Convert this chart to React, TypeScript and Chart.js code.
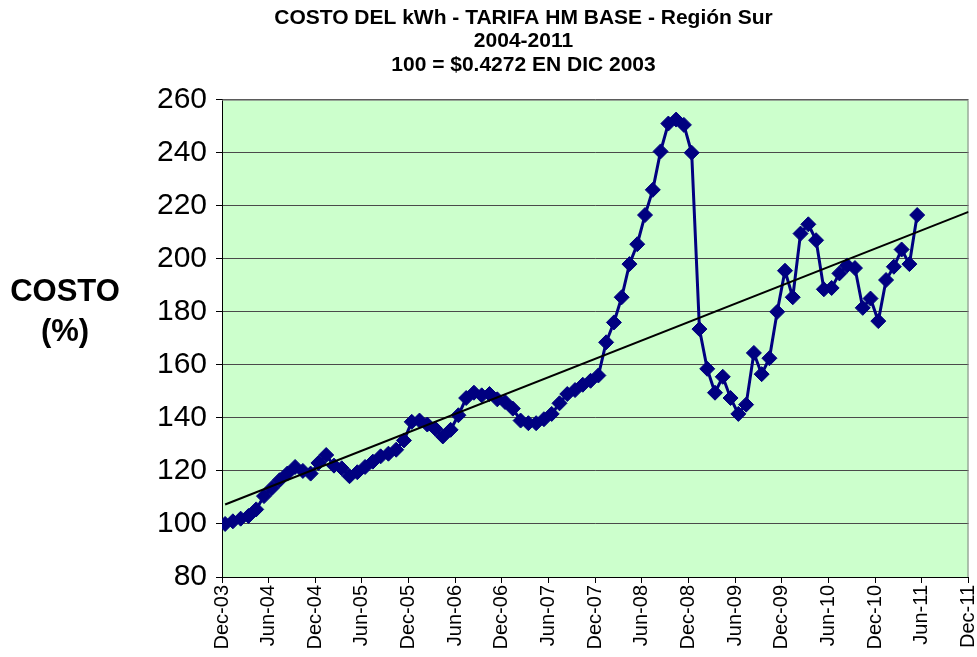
import React, { useEffect, useRef } from "react";
import { Chart, registerables } from "chart.js";

Chart.register(...registerables);

const TITLE_LINES = ["COSTO DEL kWh - TARIFA HM BASE - Región Sur", "2004-2011", "100 = $0.4272 EN DIC 2003"];
const Y_TITLE_LINES = ["COSTO", "(%)"];
const X_TICK_LABELS = [
  "Dec-03", "Jun-04", "Dec-04", "Jun-05", "Dec-05", "Jun-06", "Dec-06", "Jun-07", "Dec-07",
  "Jun-08", "Dec-08", "Jun-09", "Dec-09", "Jun-10", "Dec-10", "Jun-11", "Dec-11",
];
// monthly index values, Dec-03 .. May-11
const COSTO = [
  100, 101, 102, 103, 105.5, 110.5, 113.5, 116.5, 119, 121.5, 120, 119,
  123, 126, 122, 121, 118, 119.5, 121.5, 123.5, 125.5, 126.5, 128, 131.5,
  138.5, 139, 137.5, 136, 133, 135.5, 141, 147.5, 149.5, 148.5, 149, 147,
  146, 143.5, 139, 138, 138, 139.5, 141.5, 145.5, 149, 150.5, 152.5, 154,
  156, 168.5, 176, 185.5, 198, 205.5, 216.5, 226, 240.5, 251, 252.5, 250.5,
  240, 173.5, 158.5, 149.5, 155.5, 147.5, 141.5, 145, 164.5, 156.5, 162.5, 180,
  195.5, 185.5, 209.5, 213, 207, 188.5, 189, 194.5, 197.5, 196.5, 181.5, 185,
  176.5, 192, 197, 203.5, 198, 216.5,
];
const MONTHS_SPAN = 96; // Dec-03 .. Dec-11
const POINT_OFFSET = 0.4; // data dated mid-month
const FONT = 'Arial, "Liberation Sans", sans-serif';

export default function App() {
  const ref = useRef<HTMLCanvasElement>(null);
  useEffect(() => {
    document.body.style.margin = "0";
    const pts = COSTO.map((v, i) => ({ x: i + POINT_OFFSET, y: v }));
    // least-squares linear trend
    const n = pts.length;
    const mx = pts.reduce((s, p) => s + p.x, 0) / n;
    const my = pts.reduce((s, p) => s + p.y, 0) / n;
    let sxy = 0, sxx = 0;
    pts.forEach((p) => { sxy += (p.x - mx) * (p.y - my); sxx += (p.x - mx) ** 2; });
    const slope = sxy / sxx;
    const icpt = my - slope * mx;
    const trend = [pts[0].x, MONTHS_SPAN].map((x) => ({ x, y: icpt + slope * x }));

    const bgPlugin = {
      id: "bg",
      beforeDraw(chart: any) {
        const { ctx, chartArea: a } = chart;
        ctx.save();
        ctx.fillStyle = "#ccffcc";
        ctx.fillRect(a.left, a.top, a.right - a.left, a.bottom - a.top);
        ctx.restore();
      },
      beforeDatasetsDraw(chart: any) {
        const { ctx, chartArea: a } = chart;
        ctx.save();
        ctx.strokeStyle = "#808080";
        ctx.lineWidth = 1;
        ctx.beginPath();
        ctx.moveTo(a.left, a.top + 0.5);
        ctx.lineTo(a.right - 0.5, a.top + 0.5);
        ctx.lineTo(a.right - 0.5, a.bottom);
        ctx.stroke();
        ctx.restore();
      },
      afterDraw(chart: any) {
        const { ctx, chartArea: a } = chart;
        ctx.save();
        ctx.fillStyle = "#000";
        ctx.font = `bold 31px ${FONT}`;
        ctx.textAlign = "center";
        ctx.textBaseline = "middle";
        Y_TITLE_LINES.forEach((t, i) => ctx.fillText(t, a.left - 157, a.top + 193 + i * 40));
        ctx.restore();
      },
    };

    const chart = new Chart(ref.current!, {
      type: "line",
      data: {
        datasets: [
          {
            data: trend,
            borderColor: "#000",
            borderWidth: 2,
            pointRadius: 0,
            order: 0,
          },
          {
            data: pts,
            borderColor: "#000080",
            backgroundColor: "#000080",
            borderWidth: 3,
            pointStyle: "rectRot",
            pointRadius: 7.5,
            pointBackgroundColor: "#000080",
            pointBorderColor: "#000080",
            pointBorderWidth: 1,
            order: 1,
          },
        ],
      },
      options: {
        responsive: false,
        animation: false,
        devicePixelRatio: 1,
        layout: { padding: { left: 70, right: 0, top: 0, bottom: 0 } },
        plugins: {
          legend: { display: false },
          tooltip: { enabled: false },
          title: {
            display: true,
            text: TITLE_LINES,
            color: "#000",
            font: { family: FONT, size: 21, weight: "bold", lineHeight: 1.13 },
            padding: { top: 6, bottom: 22.5 },
          },
        },
        scales: {
          x: {
            type: "linear",
            min: 0,
            max: MONTHS_SPAN,
            ticks: {
              stepSize: 6,
              autoSkip: false,
              minRotation: 90,
              maxRotation: 90,
              padding: 2,
              color: "#000",
              font: { family: FONT, size: 20 },
              callback: (v: any) => X_TICK_LABELS[Math.round(Number(v) / 6)] ?? "",
            },
            grid: { drawOnChartArea: false, tickLength: 6, tickColor: "#000" },
            border: { color: "#000", width: 1 },
            afterFit: (s: any) => { s.height = 80; s.paddingRight = 7; },
          },
          y: {
            min: 80,
            max: 260,
            ticks: {
              stepSize: 20,
              padding: 9,
              color: "#000",
              font: { family: FONT, size: 30 },
            },
            grid: { color: "#4a4a4a", lineWidth: 1, tickLength: 6, tickColor: "#000" },
            border: { color: "#000", width: 1 },
            afterFit: (s: any) => { s.width = 152; },
          },
        },
      },
      plugins: [bgPlugin],
    });
    return () => chart.destroy();
  }, []);
  return (
    <div style={{ width: 977, height: 657 }}>
      <canvas ref={ref} width={977} height={657} style={{ display: "block" }} />
    </div>
  );
}
